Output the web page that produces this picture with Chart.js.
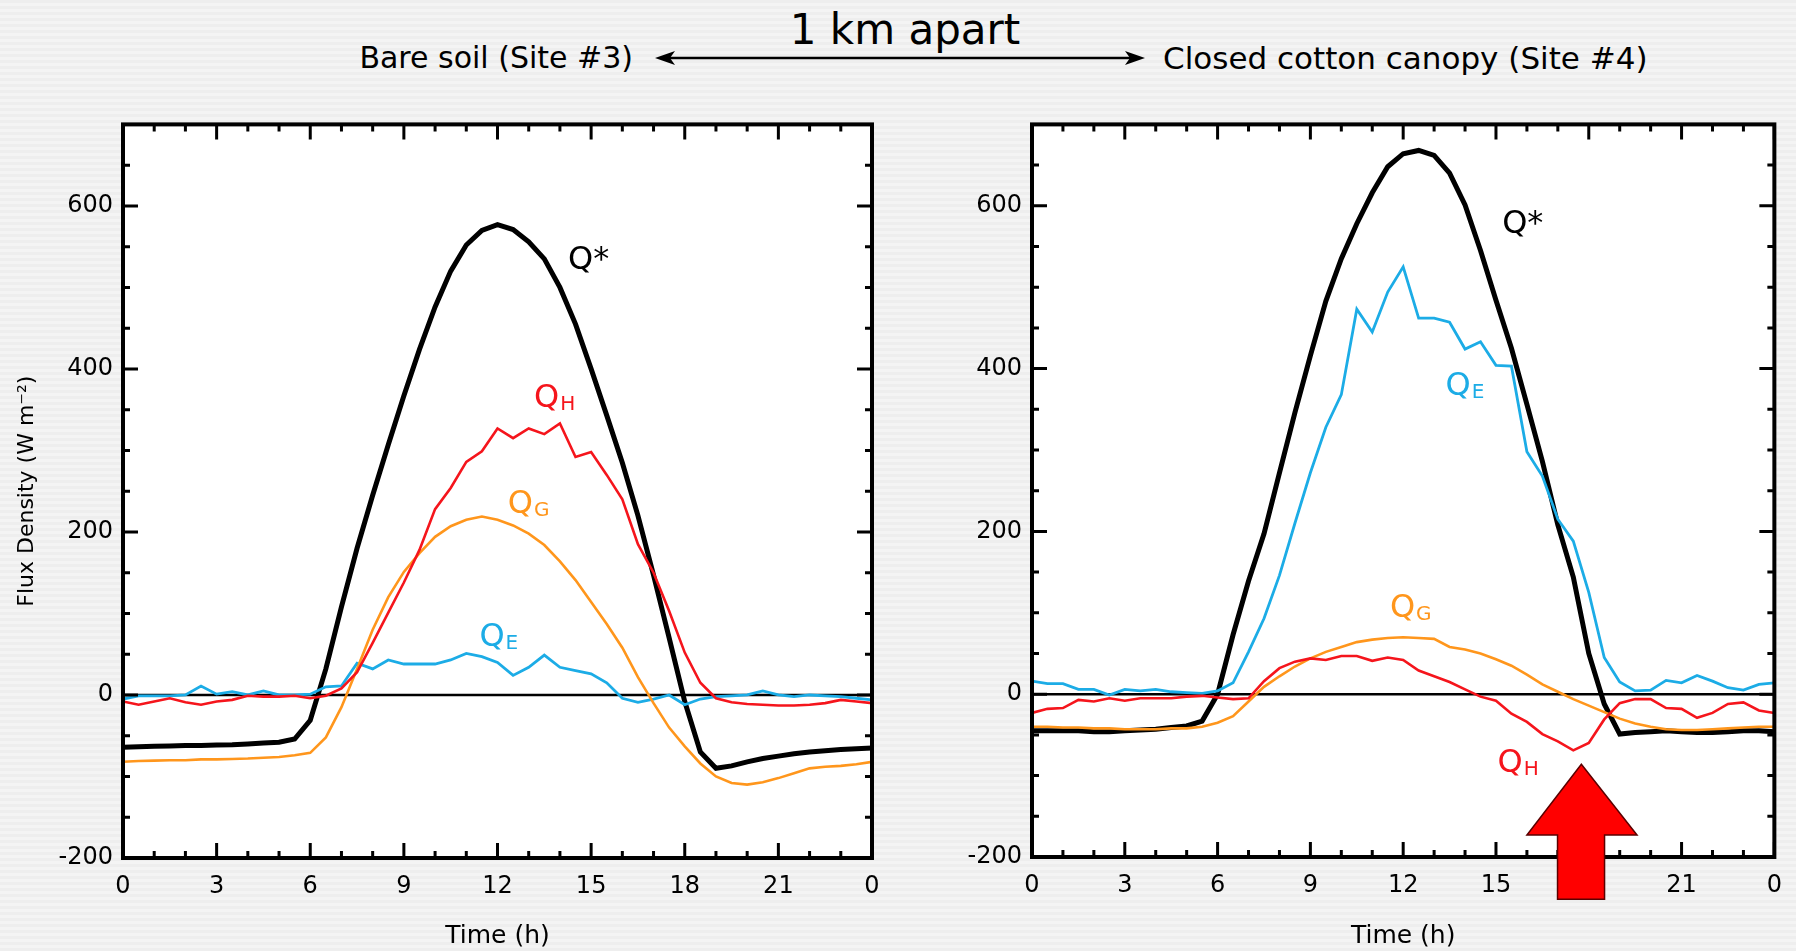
<!DOCTYPE html>
<html>
<head>
<meta charset="utf-8">
<script src="https://cdn.jsdelivr.net/npm/chart.js@4.4.0/dist/chart.umd.min.js"></script>
<style>
  html, body { margin: 0; padding: 0; }
  body {
    width: 1796px; height: 951px; position: relative; overflow: hidden;
    background: repeating-linear-gradient(180deg, #eeeeee 0px, #eeeeee 3px, #f4f4f4 3px, #f4f4f4 6px);
    font-family: "DejaVu Sans", sans-serif; color: #000;
  }
  .hdr { position: absolute; white-space: nowrap; line-height: 1; }
  #km { left: 905px; top: 30px; font-size: 42px; transform: translate(-50%, -50%); }
  #site3 { left: 633px; top: 58px; font-size: 30px; transform: translate(-100%, -50%); }
  #site4 { left: 1163px; top: 58px; font-size: 31px; transform: translateY(-50%); }
  #c1 { position: absolute; left: 0; top: 100px; }
  #c2 { position: absolute; left: 900px; top: 100px; }
</style>
</head>
<body>
<div class="hdr" id="km">1 km apart</div>
<div class="hdr" id="site3">Bare soil (Site #3)</div>
<div class="hdr" id="site4">Closed cotton canopy (Site #4)</div>
<svg style="position:absolute;left:0;top:0" width="1796" height="100">
  <line x1="668" y1="58" x2="1132" y2="58" stroke="#000" stroke-width="2.5"/>
  <polygon points="655,58 675,51 670,58 675,65" fill="#000"/>
  <polygon points="1145,58 1125,51 1130,58 1125,65" fill="#000"/>
</svg>
<canvas id="c1" width="900" height="851"></canvas>
<canvas id="c2" width="896" height="851"></canvas>
<script>
// time of day (h), half-hourly
var hours = [0,0.5,1,1.5,2,2.5,3,3.5,4,4.5,5,5.5,6,6.5,7,7.5,8,8.5,9,9.5,10,10.5,11,11.5,
             12,12.5,13,13.5,14,14.5,15,15.5,16,16.5,17,17.5,18,18.5,19,19.5,20,20.5,21,21.5,22,22.5,23,23.5,24];

// Bare soil (Site #3), W m-2
var bareNet = [-64,-63.5,-63,-62.5,-62,-62,-61.5,-61,-60,-59,-58,-54,-31,32,108,180,245,307,367,424,476,520,552,570,
               577,571,556,535,500,455,400,343,285,220,147,70,-8,-70,-90,-87,-82,-78,-75,-72,-70,-68.5,-67,-66,-65];
var bareH = [-8,-12,-8,-4,-9,-12,-8,-6,-1,-2,-2,-1,-4,-1,8,28,64,101,138,178,228,254,286,299,
             327,315,327,320,333,292,298,270,240,185,150,103,52,15,-4,-9,-11,-12,-13,-13,-12,-10,-6,-8,-10];
var bareG = [-82,-81,-80.5,-80,-80,-79,-79,-78.5,-78,-77,-76,-74,-71,-52,-15,32,80,120,151,174,194,207,215,219,
             215,208,198,184,164,141,114,87,58,22,-10,-40,-63,-84,-100,-108,-110,-107,-102,-96,-90,-88,-87,-85,-82];
var bareE = [-5,-1,-1,-1,0,11,1,4,0,5,0,0,1,10,11,39,32,43,38,38,38,43,51,47,
             40,24,34,49,34,30,26,15,-4,-9,-5,0,-12,-5,-2,-1,0,5,0,-2,0,-1,-2,-4,-6];

// Closed cotton canopy (Site #4), W m-2
var cottonNet = [-45,-45,-45,-45,-46,-46,-45,-44,-43,-41,-39,-33,0,73,139,197,272,346,416,483,535,578,616,648,
                 664,668,662,640,601,545,484,425,356,286,208,144,50,-12,-49,-47,-46,-45,-46,-47,-47,-46,-45,-45,-46];
var cottonH = [-23,-18,-17,-7,-9,-5,-8,-5,-5,-5,-3,-2,-4,-6,-5,16,32,40,44,42,47,47,41,45,
               42,29,22,15,6,-3,-8,-24,-34,-49,-58,-69,-60,-31,-11,-6,-6,-17,-18,-29,-23,-12,-10,-20,-23];
var cottonG = [-40,-40,-41,-41,-42,-42,-43,-43,-43,-42,-42,-40,-35,-27,-9,9,22,34,44,52,58,64,67,69,
               70,69,68,58,55,50,43,35,24,12,3,-6,-14,-22,-30,-36,-40,-43,-44,-44,-43,-42,-41,-40,-40];
var cottonE = [16,13,13,6,6,-1,6,4,6,3,2,1,4,14,52,93,146,210,272,328,368,473,445,494,
               525,462,462,457,424,433,404,403,298,268,215,188,125,45,15,4,5,17,14,23,16,8,5,12,14];

// tick labels
var xTickValues = [0,3,6,9,12,15,18,21,24];
var xTickLabels = ['0','3','6','9','12','15','18','21','0'];
var yTickValues = [-200,0,200,400,600];

var BLACK = '#000000', RED = '#f5151c', ORANGE = '#ff961c', BLUE = '#1cace6';
Chart.defaults.font.family = '"DejaVu Sans", sans-serif';
Chart.defaults.color = '#000';

function pts(arr) {
  return hours.map(function (h, i) { return { x: h, y: arr[i] }; });
}

// white plot area, zero line, inward ticks, box, labels, arrow
var framePlugin = {
  id: 'frame',
  beforeDraw: function (chart) {
    var a = chart.chartArea, ctx = chart.ctx;
    ctx.save();
    ctx.fillStyle = '#fff';
    ctx.fillRect(a.left, a.top, a.right - a.left, a.bottom - a.top);
    ctx.restore();
  },
  beforeDatasetsDraw: function (chart) {
    var a = chart.chartArea, ctx = chart.ctx, y0 = chart.scales.y.getPixelForValue(0);
    ctx.save();
    ctx.strokeStyle = '#000';
    ctx.lineWidth = 2.5;
    ctx.beginPath();
    ctx.moveTo(a.left, y0);
    ctx.lineTo(a.right, y0);
    ctx.stroke();
    ctx.restore();
  },
  afterDraw: function (chart) {
    var a = chart.chartArea, ctx = chart.ctx, xs = chart.scales.x, ys = chart.scales.y;
    var extra = chart.options.plugins.frame;
    ctx.save();
    ctx.strokeStyle = '#000';
    ctx.lineWidth = 3;
    ctx.beginPath();
    for (var h = 0; h <= 24; h++) {
      var px = xs.getPixelForValue(h), len = h % 3 === 0 ? 15 : 7;
      ctx.moveTo(px, a.bottom); ctx.lineTo(px, a.bottom - len);
      ctx.moveTo(px, a.top); ctx.lineTo(px, a.top + len);
    }
    for (var v = -200; v <= 700; v += 50) {
      var py = ys.getPixelForValue(v), l2 = v % 200 === 0 ? 15 : 7;
      ctx.moveTo(a.left, py); ctx.lineTo(a.left + l2, py);
      ctx.moveTo(a.right, py); ctx.lineTo(a.right - l2, py);
    }
    ctx.stroke();
    ctx.lineWidth = 4;
    ctx.strokeRect(a.left, a.top, a.right - a.left, a.bottom - a.top);

    // curve labels
    extra.labels.forEach(function (lab) {
      var x = xs.getPixelForValue(lab.t), y = ys.getPixelForValue(lab.v);
      ctx.fillStyle = lab.color;
      ctx.textBaseline = 'alphabetic';
      ctx.textAlign = 'left';
      ctx.font = '32px "DejaVu Sans"';
      ctx.fillText(lab.main, x, y);
      if (lab.sub) {
        var w = ctx.measureText(lab.main).width;
        ctx.font = '20px "DejaVu Sans"';
        ctx.fillText(lab.sub, x + w + 1, y + 3);
      }
    });

    // big red arrow
    if (extra.arrow) {
      var ar = extra.arrow;
      var tip = ys.getPixelForValue(ar.tip), base = ys.getPixelForValue(ar.base), end = ys.getPixelForValue(ar.end);
      ctx.beginPath();
      ctx.moveTo(xs.getPixelForValue(ar.x), tip);
      ctx.lineTo(xs.getPixelForValue(ar.headR), base);
      ctx.lineTo(xs.getPixelForValue(ar.shaftR), base);
      ctx.lineTo(xs.getPixelForValue(ar.shaftR), end);
      ctx.lineTo(xs.getPixelForValue(ar.shaftL), end);
      ctx.lineTo(xs.getPixelForValue(ar.shaftL), base);
      ctx.lineTo(xs.getPixelForValue(ar.headL), base);
      ctx.closePath();
      ctx.fillStyle = '#ff0000';
      ctx.fill();
      ctx.lineWidth = 1.5;
      ctx.strokeStyle = '#5a0000';
      ctx.stroke();
    }
    ctx.restore();
  }
};

function makeChart(id, net, qh, qg, qe, cfg) {
  var series = [
    { label: 'QH', data: pts(qh), borderColor: RED, borderWidth: 2.6 },
    { label: 'QG', data: pts(qg), borderColor: ORANGE, borderWidth: 2.6 },
    { label: 'QE', data: pts(qe), borderColor: BLUE, borderWidth: 2.8 },
    { label: 'Q*', data: pts(net), borderColor: BLACK, borderWidth: 5 }
  ];
  series.forEach(function (s) {
    s.pointRadius = 0;
    s.tension = 0;
    s.fill = false;
  });
  return new Chart(document.getElementById(id), {
    type: 'line',
    data: { datasets: series },
    plugins: [framePlugin],
    options: {
      responsive: false,
      animation: false,
      events: [],
      layout: { padding: cfg.padding },
      plugins: {
        legend: { display: false },
        tooltip: { enabled: false },
        frame: { labels: cfg.labels, arrow: cfg.arrow }
      },
      scales: {
        x: {
          type: 'linear', min: 0, max: 24,
          grid: { display: false, drawTicks: false },
          border: { display: false },
          afterBuildTicks: function (s) { s.ticks = xTickValues.map(function (v) { return { value: v }; }); },
          afterFit: function (s) { s.height = cfg.xHeight; },
          ticks: {
            padding: 14,
            maxRotation: 0,
            font: { size: 24 },
            callback: function (v) { return xTickLabels[xTickValues.indexOf(v)]; }
          },
          title: { display: true, text: 'Time (h)', font: { size: 25 }, padding: { top: 0, bottom: 0 } }
        },
        y: {
          type: 'linear', min: -200, max: 700,
          grid: { display: false, drawTicks: false },
          border: { display: false },
          afterBuildTicks: function (s) { s.ticks = yTickValues.map(function (v) { return { value: v }; }); },
          afterFit: function (s) { s.width = cfg.yWidth; },
          ticks: { padding: 10, font: { size: 24 }, callback: function (v) { return String(v); } },
          title: {
            display: cfg.yTitle, text: 'Flux Density (W m\u207B\u00B2)',
            font: { size: 22 }, padding: { top: 14, bottom: 0 }
          }
        }
      }
    }
  });
}

makeChart('c1', bareNet, bareH, bareG, bareE, {
  padding: { left: 0, right: 28, top: 22, bottom: 0 },
  xHeight: 93, yWidth: 123, yTitle: true,
  labels: [
    { main: 'Q*', t: 14.26, v: 522, color: BLACK },
    { main: 'Q', sub: 'H', t: 13.17, v: 353, color: RED },
    { main: 'Q', sub: 'G', t: 12.33, v: 223, color: ORANGE },
    { main: 'Q', sub: 'E', t: 11.42, v: 60, color: BLUE }
  ],
  arrow: null
});

makeChart('c2', cottonNet, cottonH, cottonG, cottonE, {
  padding: { left: 0, right: 16, top: 21, bottom: 0 },
  xHeight: 94, yWidth: 132, yTitle: false,
  labels: [
    { main: 'Q*', t: 15.2, v: 567, color: BLACK },
    { main: 'Q', sub: 'E', t: 13.37, v: 367, color: BLUE },
    { main: 'Q', sub: 'G', t: 11.57, v: 95, color: ORANGE },
    { main: 'Q', sub: 'H', t: 15.05, v: -96, color: RED }
  ],
  arrow: { x: 17.76, tip: -86, base: -173, end: -252, headL: 16.0, headR: 19.56, shaftL: 16.99, shaftR: 18.51 }
});
</script>
</body>
</html>
